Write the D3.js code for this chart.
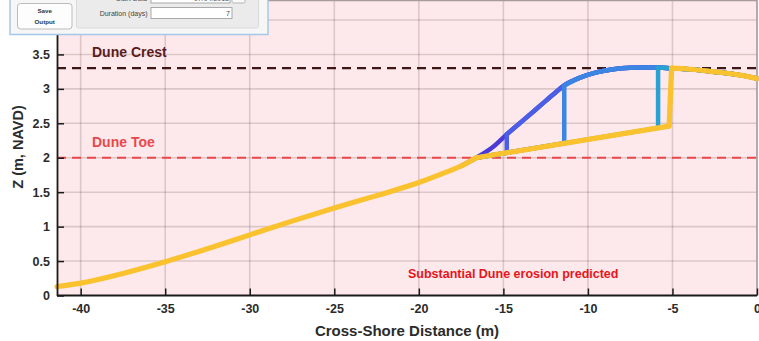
<!DOCTYPE html>
<html>
<head>
<meta charset="utf-8">
<script src="https://cdn.jsdelivr.net/npm/d3@7"></script>
<style>
  html, body { margin: 0; padding: 0; background: #ffffff; }
  svg { display: block; font-family: "Liberation Sans", Arial, sans-serif; }
</style>
</head>
<body>
<svg id="chart" width="759" height="341"></svg>
<script>
// Axis ticks
const xTicks = [-40, -35, -30, -25, -20, -15, -10, -5, 0];
const xTickLabels = ["-40", "-35", "-30", "-25", "-20", "-15", "-10", "-5", "0"];
const yTicks = [0, 0.5, 1, 1.5, 2, 2.5, 3, 3.5, 4];
const yTickLabels = ["0", "0.5", "1", "1.5", "2", "2.5", "3", "3.5", "4"];

// Pre-storm cross-shore profile (m, NAVD)
const preX = [-41.4, -40, -37.5, -35, -32.5, -30, -27.5, -25, -22.5, -20, -18.5, -17.5, -16.6,
              -15.6, -14.8, -13.8, -12.9, -12.0, -11.4, -10.5, -9.5, -8.5, -7.5, -6.5, -5.85, -5.1,
              -4, -2.6, -1, 0];
const preZ = [0.13, 0.18, 0.32, 0.49, 0.68, 0.88, 1.08, 1.27, 1.45, 1.64, 1.78, 1.88, 2.0,
              2.16, 2.34, 2.55, 2.74, 2.93, 3.05, 3.16, 3.24, 3.285, 3.305, 3.31, 3.31, 3.30,
              3.285, 3.25, 3.20, 3.15];

// Dune toe position on the profile
const toeX = -16.6;

// Scarp positions through the storm (last one is the final profile)
const scarpX    = [-14.8, -11.4, -5.85, -5.2];
const scarpBase = [2.073, 2.21, 2.434, 2.46];
const scarpTop  = [2.34, 3.05, 3.31, 3.30];
const profileColors = ["#4a3bd6", "#4b5fe6", "#3b86e3", "#2ba0d2", "#f9c22e"];

// Reference elevations
const duneCrest = 3.3;
const duneToe = 2.0;

const svg = d3.select("#chart");

const x = d3.scaleLinear().domain([-41.4, 0]).range([57, 757]);
const y = d3.scaleLinear().domain([0, 4.283]).range([295.5, 0.5]);

// Plot background
svg.append("rect")
  .attr("x", x(-41.4)).attr("y", y(4.283))
  .attr("width", x(0) - x(-41.4)).attr("height", y(0) - y(4.283))
  .attr("fill", "#fde9eb");

// Grid
const grid = svg.append("g").attr("stroke", "rgba(70,45,45,0.18)").attr("stroke-width", 1.6);
grid.selectAll("line.gx").data(xTicks).join("line")
  .attr("x1", d => x(d)).attr("x2", d => x(d))
  .attr("y1", y(0)).attr("y2", y(4.283));
grid.selectAll("line.gy").data(yTicks.filter(d => d > 0)).join("line")
  .attr("x1", x(-41.4)).attr("x2", x(0))
  .attr("y1", d => y(d)).attr("y2", d => y(d));

// Box (top / right)
svg.append("path")
  .attr("d", `M${x(-41.4)},${y(4.283)}H${x(0)}V${y(0)}`)
  .attr("fill", "none").attr("stroke", "#a89a9c").attr("stroke-width", 1.5);

// Reference lines
svg.append("line")
  .attr("x1", x(-41.4)).attr("x2", x(0))
  .attr("y1", y(duneCrest)).attr("y2", y(duneCrest))
  .attr("stroke", "#3f1616").attr("stroke-width", 2.2)
  .attr("stroke-dasharray", "9,6");
svg.append("line")
  .attr("x1", x(-41.4)).attr("x2", x(0))
  .attr("y1", y(duneToe)).attr("y2", y(duneToe))
  .attr("stroke", "#e8484b").attr("stroke-width", 2.2)
  .attr("stroke-dasharray", "9,6");

svg.append("text").attr("x", 92).attr("y", 57)
  .attr("font-size", 14).attr("font-weight", "bold").attr("fill", "#5a1c1c")
  .text("Dune Crest");
svg.append("text").attr("x", 92).attr("y", 147)
  .attr("font-size", 14).attr("font-weight", "bold").attr("fill", "#e8484b")
  .text("Dune Toe");

// Profiles
const pts = preX.map((d, i) => ({ x: d, z: preZ[i] }));
const line = d3.line().x(d => x(d.x)).y(d => y(d.z)).curve(d3.curveMonotoneX);
const straight = d3.line().x(d => x(d.x)).y(d => y(d.z));
const plot = svg.append("g").attr("fill", "none")
  .attr("stroke-linejoin", "round").attr("stroke-linecap", "round");

// Pre-storm dune face
plot.append("path")
  .attr("d", line(pts.filter(p => p.x >= toeX - 1)))
  .attr("stroke", profileColors[0]).attr("stroke-width", 4.5);

// Eroded profiles: lower beach, eroded slope, scarp, remaining dune
scarpX.forEach((s, k) => {
  const last = k === scarpX.length - 1;
  const w = last ? 5.2 : 4.5;
  const col = profileColors[k + 1];
  const lower = pts.filter(p => p.x <= toeX);
  const toeZ = pts.find(p => p.x === toeX).z;
  const slope = [{ x: toeX, z: toeZ }, { x: s, z: scarpBase[k] }];
  const topX = s + (last ? 0.15 : 0);
  const scarp = [{ x: s, z: scarpBase[k] }, { x: topX, z: scarpTop[k] }];
  const upper = [{ x: topX, z: scarpTop[k] }].concat(pts.filter(p => p.x > topX + 0.2));
  const g = plot.append("g").attr("stroke", col).attr("stroke-width", w);
  if (last) g.append("path").attr("d", line(lower));
  g.append("path").attr("d", straight(slope));
  g.append("path").attr("d", straight(scarp));
  g.append("path").attr("d", line(upper));
});

// Axes
const axisColor = "#1a1a1a";
const xAxis = svg.append("g").attr("transform", `translate(0,${y(0)})`)
  .call(d3.axisBottom(x).tickValues(xTicks).tickSizeInner(-7).tickSizeOuter(0).tickPadding(9)
        .tickFormat((d, i) => xTickLabels[i]));
const yAxis = svg.append("g").attr("transform", `translate(${x(-41.4)},0)`)
  .call(d3.axisLeft(y).tickValues(yTicks).tickSizeInner(-7).tickSizeOuter(0).tickPadding(7)
        .tickFormat((d, i) => yTickLabels[i]));
[xAxis, yAxis].forEach(a => {
  a.select(".domain").attr("stroke", axisColor).attr("stroke-width", 1.8);
  a.selectAll(".tick line").attr("stroke", axisColor).attr("stroke-width", 1.5);
  a.selectAll(".tick text").attr("fill", "#2b2b2b")
    .attr("font-size", 12.5).attr("font-weight", "bold")
    .attr("font-family", "'Liberation Sans', Arial, sans-serif");
});
xAxis.select(".domain").attr("d", `M${x(-41.4)},0H${x(0)}`);

// Axis titles
svg.append("text").attr("x", 407).attr("y", 336)
  .attr("text-anchor", "middle").attr("font-size", 15).attr("font-weight", "bold")
  .attr("fill", "#2b2b2b").text("Cross-Shore Distance (m)");
svg.append("text").attr("transform", "translate(23,147) rotate(-90)")
  .attr("text-anchor", "middle").attr("font-size", 14.5).attr("font-weight", "bold")
  .attr("fill", "#2b2b2b").text("Z (m, NAVD)");

// Status message
svg.append("text").attr("x", 408).attr("y", 278)
  .attr("font-size", 12.5).attr("font-weight", "bold").attr("fill", "#e8141c")
  .text("Substantial Dune erosion predicted");

// Control panel
const panel = svg.append("g").attr("font-family", "'Liberation Sans', Arial, sans-serif");
panel.append("rect").attr("x", 10).attr("y", -6).attr("width", 258).attr("height", 40.5)
  .attr("fill", "#f6f6f6").attr("stroke", "#a6c8e8").attr("stroke-width", 1.5);
panel.append("rect").attr("x", 76.5).attr("y", -4).attr("width", 182).attr("height", 32)
  .attr("rx", 2).attr("fill", "#ebebeb").attr("stroke", "#dadada");
panel.append("rect").attr("x", 17.5).attr("y", 3.5).attr("width", 54.5).attr("height", 25.5)
  .attr("rx", 3).attr("fill", "#fdfdfd").attr("stroke", "#bcbcbc");
panel.append("text").attr("x", 44.7).attr("y", 13.2).attr("text-anchor", "middle")
  .attr("font-size", 6.2).attr("font-weight", "bold").attr("fill", "#333").text("Save");
panel.append("text").attr("x", 44.7).attr("y", 23.6).attr("text-anchor", "middle")
  .attr("font-size", 6.2).attr("font-weight", "bold").attr("fill", "#333").text("Output");
panel.append("text").attr("x", 147.5).attr("y", 16).attr("text-anchor", "end")
  .attr("font-size", 7).attr("fill", "#444").text("Duration (days)");
panel.append("rect").attr("x", 151).attr("y", 7.5).attr("width", 81).attr("height", 11)
  .attr("fill", "#ffffff").attr("stroke", "#a9a9a9");
panel.append("text").attr("x", 230).attr("y", 16).attr("text-anchor", "end")
  .attr("font-size", 7).attr("fill", "#444").text("7");
panel.append("rect").attr("x", 151).attr("y", -6).attr("width", 79).attr("height", 9)
  .attr("fill", "#ffffff").attr("stroke", "#a9a9a9");
panel.append("rect").attr("x", 232).attr("y", -6).attr("width", 13).attr("height", 9)
  .attr("rx", 1.5).attr("fill", "#f9f9f9").attr("stroke", "#b5b5b5");
panel.append("text").attr("x", 147.5).attr("y", 0.8).attr("text-anchor", "end")
  .attr("font-size", 7).attr("fill", "#555").text("Start Date");
panel.append("text").attr("x", 229).attr("y", 0.8).attr("text-anchor", "end")
  .attr("font-size", 7).attr("fill", "#555").text("07/04/2018");
</script>
</body>
</html>
